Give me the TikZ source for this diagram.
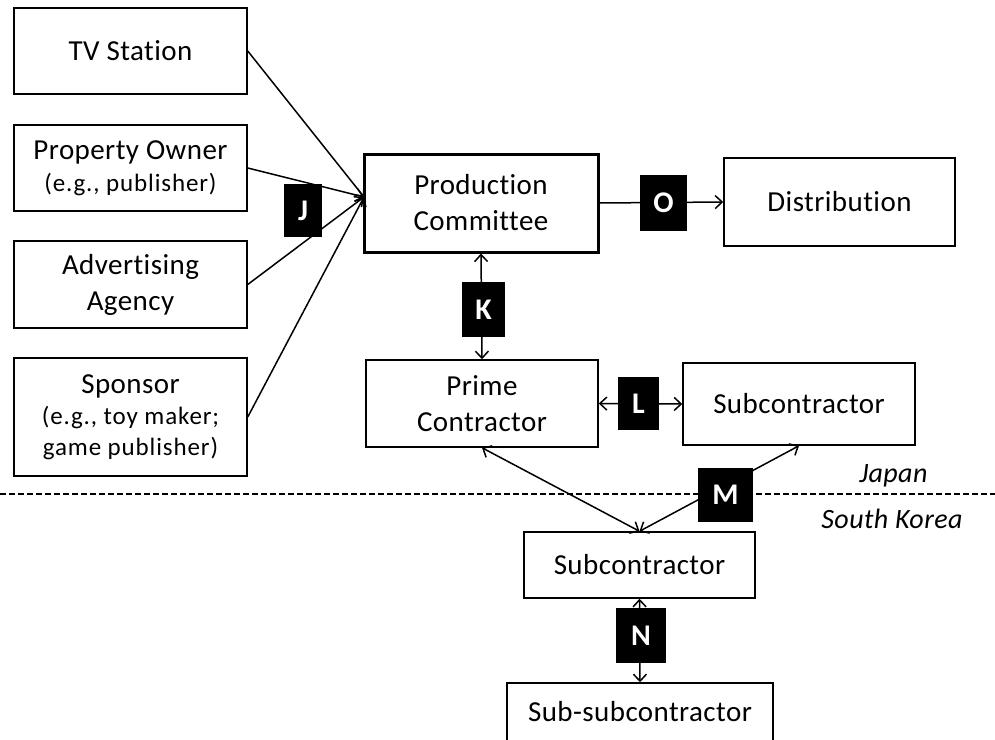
\documentclass[tikz,border=0pt]{standalone}
\usepackage{fontspec}
\setmainfont[Ligatures=NoCommon, LetterSpace=1.5]{Carlito}
\newfontfamily\smallfam[Ligatures=NoCommon, LetterSpace=3.5]{Carlito}
\usetikzlibrary{arrows.meta}
\begin{document}
\begin{tikzpicture}[x=1pt,y=-1pt,
  box/.style={draw, line width=1.5pt, align=center, inner sep=0pt, font=\fontsize{29}{36}\selectfont},
  tag/.style={fill=black, text=white, inner sep=0pt, font=\fontsize{30}{32}\selectfont\bfseries},
  con/.style={line width=1.5pt, -{Straight Barb[length=7pt,width=13pt,line width=1.5pt]}},
  dcon/.style={line width=1.5pt, {Straight Barb[length=7pt,width=13pt,line width=1.5pt]}-{Straight Barb[length=7pt,width=13pt,line width=1.5pt]}},
  place/.style={anchor=base east, font=\fontsize{28}{32}\selectfont\itshape}
]
\useasboundingbox (0,0) rectangle (995,739);
\fill[white] (0,0) rectangle (995,739);

\node[box, minimum width=233, minimum height=86] (tv) at (130.5,51) {TV Station};
\node[box, minimum width=233, minimum height=86, font=\fontsize{29}{32}\selectfont] (po) at (130.5,168) {Property Owner\\{\smallfam\fontsize{25}{32}\selectfont (e.g., publisher)}};
\node[box, minimum width=233, minimum height=87] (aa) at (130.5,284.5) {Advertising\\Agency};
\node[box, minimum width=233, minimum height=118, font=\fontsize{29}{31}\selectfont] (sp) at (130.5,417) {Sponsor\\{\smallfam\fontsize{25}{31}\selectfont (e.g., toy maker;}\\{\smallfam\fontsize{25}{31}\selectfont game publisher)}};

\node[box, line width=3pt, minimum width=234, minimum height=98] (pc) at (481,203) {Production\\Committee};
\node[box, minimum width=231, minimum height=88] (dist) at (839.5,202) {Distribution};
\node[box, minimum width=232, minimum height=87] (prime) at (482,403.5) {Prime\\Contractor};
\node[box, minimum width=232, minimum height=82] (sub1) at (799,404) {Subcontractor};
\node[box, minimum width=231, minimum height=66] (sub2) at (639.5,565) {Subcontractor};
\node[box, minimum width=266, minimum height=58] (subsub) at (640,712) {Sub-subcontractor};

\draw[line width=1.2pt, dash pattern=on 6pt off 3pt] (0,494) -- (995,494);
\node[place] (jp) at (931,482) {Japan};
\node[place] (sk) at (966,528) {South Korea};

\coordinate (conv) at (364,197);
\draw[con] (tv.east) -- (conv);
\draw[con] (po.east) -- (conv);
\draw[con] (aa.east) -- (conv);
\draw[con] (sp.east) -- (conv);
\draw[con] (pc.east) -- (dist.west);
\draw[dcon] (pc.south) -- (prime.north);
\draw[dcon] (prime.east) -- (sub1.west);
\draw[dcon] (prime.south) -- (sub2.north);
\draw[dcon] (sub1.south) -- (sub2.north);
\draw[dcon] (sub2.south) -- (subsub.north);

\node[tag, minimum width=38, minimum height=53] (tj) at (303,210.5) {J};
\node[tag, minimum width=43, minimum height=55] (tk) at (483.5,309.5) {K};
\node[tag, minimum width=47, minimum height=56] (to) at (663.5,203) {O};
\node[tag, minimum width=41, minimum height=53] (tl) at (638.5,403.5) {L};
\node[tag, minimum width=55, minimum height=54] (tm) at (725.5,495) {M};
\node[tag, minimum width=50, minimum height=55] (tn) at (641,635.5) {N};
\end{tikzpicture}
\end{document}
